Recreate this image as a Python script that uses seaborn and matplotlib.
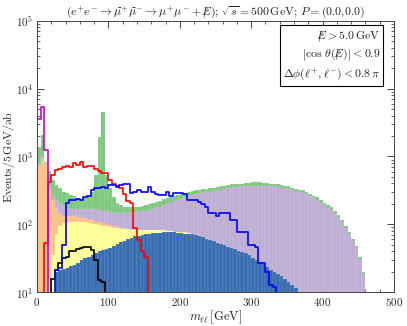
import numpy as np
import pandas as pd
import matplotlib
matplotlib.use("Agg")
import matplotlib.pyplot as plt
import seaborn as sns
from matplotlib.ticker import MultipleLocator, LogLocator, NullFormatter

# ---------------- data (log10 of events / 5 GeV / ab), 5 GeV bins ----------------
bin_width = 5
edges = list(range(0, 505, bin_width))

# cumulative tops of the stacked background, first bin start in GeV
green_start = 0
green_top = [3.14, 3.32, 2.92, 2.78, 2.65, 2.58, 2.53, 2.48, 2.46, 2.43,
             2.41, 2.39, 2.38, 2.39, 2.41, 2.48, 2.73, 3.29, 3.66, 2.73,
             2.53, 2.40, 2.32, 2.28, 2.26, 2.25, 2.25, 2.25, 2.26, 2.27,
             2.29, 2.30, 2.32, 2.33, 2.35, 2.37, 2.39, 2.40, 2.42, 2.43,
             2.45, 2.46, 2.48, 2.49, 2.50, 2.51, 2.52, 2.52, 2.53, 2.54,
             2.55, 2.56, 2.57, 2.58, 2.59, 2.59, 2.60, 2.60, 2.61, 2.61,
             2.62, 2.62, 2.62, 2.61, 2.61, 2.60, 2.60, 2.59, 2.58, 2.57,
             2.56, 2.54, 2.52, 2.51, 2.50, 2.47, 2.45, 2.42, 2.40, 2.36,
             2.32, 2.28, 2.25, 2.19, 2.13, 2.07, 1.97, 1.88, 1.78, 1.68,
             1.52, 1.30]

purple_start = 0
purple_top = [2.89, 3.00, 2.92, 2.55, 2.43, 2.36, 2.31, 2.27, 2.24, 2.23,
              2.22, 2.22, 2.22, 2.22, 2.22, 2.22, 2.22, 2.21, 2.20, 2.19,
              2.18, 2.17, 2.17, 2.17, 2.17, 2.17, 2.17, 2.17, 2.18, 2.19,
              2.20, 2.21, 2.23, 2.25, 2.26, 2.28, 2.30, 2.32, 2.34, 2.36,
              2.38, 2.40, 2.41, 2.43, 2.44, 2.45, 2.46, 2.47, 2.48, 2.49,
              2.50, 2.51, 2.52, 2.53, 2.54, 2.55, 2.55, 2.56, 2.56, 2.57,
              2.57, 2.57, 2.57, 2.57, 2.57, 2.56, 2.56, 2.55, 2.54, 2.53,
              2.52, 2.50, 2.48, 2.47, 2.46, 2.44, 2.41, 2.39, 2.36, 2.32,
              2.28, 2.24, 2.21, 2.16, 2.10, 2.04, 1.94, 1.85, 1.75, 1.65,
              1.49, 1.27]

orange_start = 0
orange_top = [2.87, 2.98, 2.90, 2.50, 2.36, 2.24, 2.17, 2.12, 2.12, 2.12,
              2.12, 2.11, 2.10, 2.09, 2.07, 2.06, 2.04, 2.03, 2.02, 2.01,
              1.99, 1.97, 1.96, 1.95, 1.94]

yellow_start = 15
yellow_top = [1.20, 1.55, 1.85, 1.98, 2.02, 2.03, 2.04, 2.04, 2.04, 2.04,
              2.03, 2.02, 2.01, 2.00, 1.99, 1.98, 1.97, 1.96, 1.95, 1.94,
              1.93, 1.93, 1.93, 1.92, 1.92, 1.92, 1.92, 1.92, 1.92, 1.92,
              1.91, 1.91, 1.91, 1.90, 1.90, 1.89, 1.89, 1.88, 1.88, 1.87,
              1.86, 1.84, 1.83, 1.81, 1.79, 1.77, 1.75, 1.73, 1.71, 1.69,
              1.67, 1.65, 1.63, 1.61, 1.59, 1.56, 1.53, 1.50, 1.47, 1.43,
              1.39, 1.35, 1.32, 1.29, 1.26, 1.22, 1.17, 1.13, 1.08]

blue_start = 25
blue_top = [1.30, 1.32, 1.34, 1.36, 1.38, 1.40, 1.43, 1.47, 1.50, 1.52,
            1.55, 1.57, 1.60, 1.62, 1.63, 1.65, 1.68, 1.71, 1.74, 1.76,
            1.78, 1.80, 1.82, 1.83, 1.84, 1.85, 1.86, 1.87, 1.87, 1.87,
            1.88, 1.88, 1.88, 1.88, 1.87, 1.87, 1.86, 1.86, 1.85, 1.84,
            1.82, 1.81, 1.79, 1.77, 1.75, 1.73, 1.71, 1.69, 1.67, 1.65,
            1.63, 1.61, 1.59, 1.57, 1.54, 1.51, 1.48, 1.45, 1.41, 1.37,
            1.33, 1.30, 1.27, 1.24, 1.20, 1.15, 1.11, 1.06]

# signal / other line histograms
magenta_start = 0
magenta_line = [3.56, 3.73, 3.10]

red_start = 10
red_line = [1.72, 2.63, 2.73, 2.80, 2.82, 2.85, 2.86, 2.85, 2.90, 2.88,
            2.92, 2.85, 2.86, 2.86, 2.82, 2.78, 2.76, 2.75, 2.66, 2.60,
            2.57, 2.53, 2.45, 2.35, 2.31, 1.94, 1.77, 1.60, 1.52]

black_start = 20
black_line = [1.20, 1.33, 1.43, 1.50, 1.52, 1.60, 1.60, 1.63, 1.65, 1.67,
              1.67, 1.62, 1.48, 1.18, 1.15]

blueline_start = 25
blue_line = [1.33, 1.36, 1.70, 2.31, 2.36, 2.36, 2.38, 2.36, 2.40, 2.42,
             2.50, 2.53, 2.53, 2.55, 2.53, 2.58, 2.58, 2.55, 2.58, 2.60,
             2.60, 2.46, 2.48, 2.50, 2.48, 2.48, 2.55, 2.48, 2.45, 2.43,
             2.43, 2.48, 2.41, 2.46, 2.46, 2.46, 2.44, 2.36, 2.36, 2.36,
             2.33, 2.30, 2.26, 2.16, 2.16, 2.12, 2.16, 2.16, 2.16, 2.06,
             2.06, 1.89, 1.89, 1.89, 1.69, 1.69, 1.67, 1.43, 1.43, 1.30,
             1.10, 1.08]

# ColorBrewer "Accent"-like colours of the reference
c_green, c_purple, c_orange, c_yellow, c_blue = "#7fc97f", "#beaed4", "#fdc086", "#ffff99", "#386cb0"


def series(start, logvals):
    centers = start + bin_width / 2 + bin_width * np.arange(len(logvals))
    return pd.DataFrame({"m": centers, "w": 10.0 ** np.asarray(logvals, dtype=float)})


# ---------------- style ----------------
sns.set_style("ticks")
plt.rcParams["font.family"] = ["cmr10", "DejaVu Serif"]
plt.rcParams["mathtext.fontset"] = "cm"
plt.rcParams["axes.formatter.use_mathtext"] = True
plt.rcParams["axes.unicode_minus"] = False

fig = plt.figure(figsize=(4.07, 3.26), dpi=100)
ax = fig.add_axes([0.091, 0.104, 0.877, 0.832])

for start, vals, col in [(green_start, green_top, c_green),
                         (purple_start, purple_top, c_purple),
                         (orange_start, orange_top, c_orange),
                         (yellow_start, yellow_top, c_yellow),
                         (blue_start, blue_top, c_blue)]:
    df = series(start, vals)
    sns.histplot(data=df, x="m", weights="w", bins=edges, element="bars", fill=True,
                 color=col, alpha=1.0, linewidth=0.3, edgecolor="#ffffff40", ax=ax)

for start, vals, col in [(red_start, red_line, "#ff0000"),
                         (black_start, black_line, "#000000"),
                         (blueline_start, blue_line, "#0000ff"),
                         (magenta_start, magenta_line, "#cc00cc")]:
    df = series(start, vals)
    sns.histplot(data=df, x="m", weights="w", bins=edges, element="step", fill=False,
                 color=col, linewidth=1.2, ax=ax)

ax.set_yscale("log")
ax.set_xlim(0, 500)
ax.set_ylim(10, 1e5)
ax.xaxis.set_major_locator(MultipleLocator(100))
ax.xaxis.set_minor_locator(MultipleLocator(20))
ax.yaxis.set_major_locator(LogLocator(base=10, numticks=10))
ax.yaxis.set_minor_locator(LogLocator(base=10, subs=np.arange(2, 10), numticks=20))
ax.yaxis.set_minor_formatter(NullFormatter())
ax.tick_params(which="both", direction="in", top=True, right=True, labelsize=8, pad=3)
ax.tick_params(which="major", length=5, width=0.6)
ax.tick_params(which="minor", length=2.5, width=0.5)
for s in ax.spines.values():
    s.set_linewidth(0.7)
    s.set_color("#444444")

ax.set_xlabel(r"$m_{\ell\ell}\,[\mathrm{GeV}]$", fontsize=9, labelpad=0)
ax.set_ylabel(r"$\mathrm{Events/5\,GeV/ab}$", fontsize=8.5)
ax.yaxis.set_label_coords(-0.057, 0.5)
ax.set_title(r"$(e^{+}e^{-}\rightarrow\widetilde{\mu}^{+}\widetilde{\mu}^{-}\rightarrow\mu^{+}\mu^{-}+/\!\!\!\!E);\,"
             r"\sqrt{s}=500\,\mathrm{GeV};\,P=(0.0{,}0.0)$", fontsize=8.5, pad=3)

box_text = (r"$/\!\!\!\!E>5.0\,\mathrm{GeV}$" "\n"
            r"$\left|\cos\,\theta(/\!\!\!\!E)\right|<0.9$" "\n"
            r"$\Delta\phi(\ell^{+},\ell^{-})<0.8\,\pi$")
ax.text(0.962, 0.975, box_text, transform=ax.transAxes, ha="right", va="top",
        fontsize=8.5, linespacing=1.25,
        bbox=dict(boxstyle="square,pad=0.25", fc="white", ec="black", lw=0.8))

fig.savefig("out.png", dpi=100)
